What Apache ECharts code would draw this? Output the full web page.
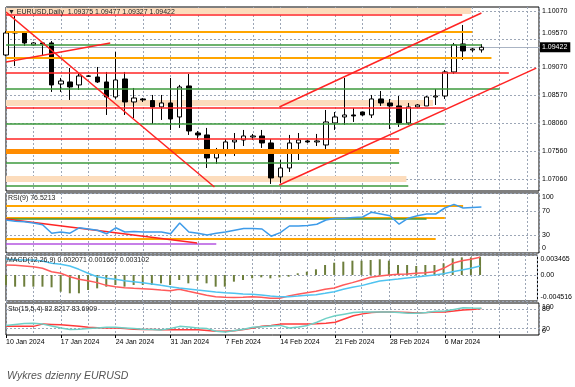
<!DOCTYPE html>
<html><head><meta charset="utf-8">
<script src="https://cdn.jsdelivr.net/npm/echarts@6/dist/echarts.min.js"></script>
<style>html,body{margin:0;padding:0;background:#fff}#c{width:575px;height:387px}</style>
</head><body><div id="c"></div>
<script>
// ---------- DATA ----------
const dates = ['10 Jan 2024','11 Jan 2024','12 Jan 2024','14 Jan 2024','15 Jan 2024','16 Jan 2024','17 Jan 2024','18 Jan 2024','19 Jan 2024','21 Jan 2024',
 '22 Jan 2024','23 Jan 2024','24 Jan 2024','25 Jan 2024','26 Jan 2024','28 Jan 2024','29 Jan 2024','30 Jan 2024','31 Jan 2024','1 Feb 2024',
 '2 Feb 2024','4 Feb 2024','5 Feb 2024','6 Feb 2024','7 Feb 2024','8 Feb 2024','9 Feb 2024','11 Feb 2024','12 Feb 2024','13 Feb 2024',
 '14 Feb 2024','15 Feb 2024','16 Feb 2024','18 Feb 2024','19 Feb 2024','20 Feb 2024','21 Feb 2024','22 Feb 2024','23 Feb 2024','25 Feb 2024',
 '26 Feb 2024','27 Feb 2024','28 Feb 2024','29 Feb 2024','1 Mar 2024','3 Mar 2024','4 Mar 2024','5 Mar 2024','6 Mar 2024','7 Mar 2024',
 '8 Mar 2024','10 Mar 2024','11 Mar 2024'];
const open = [1.09284,1.09677,1.09695,1.09463,1.09499,1.09499,1.08766,1.08802,1.08749,1.08909,
 1.08891,1.08802,1.08534,1.08856,1.08445,1.08499,1.08470,1.08356,1.08427,1.08177,
 1.08731,1.07891,1.07856,1.07445,1.07534,1.07731,1.07766,1.07820,1.07838,1.07713,
 1.07106,1.07266,1.07713,1.07749,1.07731,1.07677,1.08070,1.08177,1.08213,1.08266,
 1.08213,1.08499,1.08427,1.08374,1.08070,1.08356,1.08374,1.08534,1.08552,1.08981,
 1.09481,1.09374,1.09375];
const high = [1.09713,1.09981,1.09713,1.09516,1.09516,1.09534,1.08874,1.09052,1.08963,1.08927,
 1.09070,1.08981,1.09338,1.08981,1.08695,1.08516,1.08570,1.08570,1.08874,1.08749,
 1.08945,1.07927,1.07981,1.07624,1.07784,1.07891,1.07945,1.07874,1.07945,1.07784,
 1.07409,1.07856,1.07891,1.07766,1.07874,1.08302,1.08266,1.08874,1.08338,1.08270,
 1.08570,1.08641,1.08499,1.08552,1.08427,1.08409,1.08552,1.08677,1.09016,1.09499,
 1.09820,1.09409,1.09477];
const low = [1.09266,1.09088,1.09445,1.09445,1.09284,1.08624,1.08624,1.08481,1.08659,1.08891,
 1.08784,1.08213,1.08499,1.08213,1.08159,1.08445,1.08052,1.08124,1.07945,1.07981,
 1.07856,1.07766,1.07266,1.07338,1.07481,1.07481,1.07659,1.07766,1.07624,1.06981,
 1.06999,1.07195,1.07409,1.07713,1.07659,1.07588,1.07945,1.08034,1.08088,1.08195,
 1.08159,1.08374,1.07963,1.07999,1.08034,1.08338,1.08374,1.08391,1.08499,1.08945,
 1.09195,1.09338,1.09327];
const close = [1.09677,1.09695,1.09499,1.09499,1.09481,1.08749,1.08820,1.08713,1.08909,1.08905,
 1.08802,1.08534,1.08838,1.08445,1.08516,1.08481,1.08356,1.08427,1.08141,1.08713,
 1.07927,1.07856,1.07445,1.07534,1.07731,1.07766,1.07838,1.07838,1.07713,1.07088,
 1.07266,1.07713,1.07766,1.07731,1.07749,1.08088,1.08177,1.08213,1.08195,1.08213,
 1.08499,1.08427,1.08374,1.08070,1.08356,1.08391,1.08534,1.08552,1.08981,1.09463,
 1.09356,1.09391,1.09422];
const rsi = [55,53,52,50,47,33,35,33,42,40, 38,32,42,35,36,35,35,35,32,50, 35,33,30,33,35,38,41,41,40,28,
 34,45,45,46,48,55,58,58,59,60, 68,65,62,48,58,62,65,65,75,81, 75,76,76.52];
const macdHist = [-0.00174,-0.00203,-0.00203,-0.00203,-0.00203,-0.00214,-0.00290,-0.00318,-0.00318,-0.00261,
 -0.00232,-0.00203,-0.00174,-0.00203,-0.00174,-0.00174,-0.00174,-0.00145,-0.00174,-0.00087,
 -0.00145,-0.00099,-0.00145,-0.00203,-0.00203,-0.00116,-0.00087,-0.00058,-0.00041,-0.00058,
 -0.00041,-0.00030,0.00029,0.00057,0.00098,0.00173,0.00213,0.00231,0.00248,0.00248,
 0.00260,0.00272,0.00248,0.00173,0.00173,0.00156,0.00173,0.00173,0.00202,0.00289,
 0.00306,0.00306,0.00317];
const macdRed = [0.00173,0.00168,0.00156,0.00144,0.00116,0.00057,0.00029,-0.00030,-0.00075,-0.00099,
 -0.00133,-0.00180,-0.00203,-0.00220,-0.00232,-0.00238,-0.00249,-0.00261,-0.00272,-0.00249,
 -0.00284,-0.00318,-0.00353,-0.00376,-0.00388,-0.00393,-0.00388,-0.00376,-0.00388,-0.00405,
 -0.00405,-0.00365,-0.00336,-0.00307,-0.00284,-0.00249,-0.00226,-0.00174,-0.00133,-0.00087,
 -0.00041,-0.00017,0.00000,0.00012,0.00017,0.00029,0.00040,0.00057,0.00116,0.00202,
 0.00248,0.00272,0.00306];
const macdBlue = [0.00272,0.00266,0.00260,0.00260,0.00243,0.00202,0.00185,0.00156,0.00098,0.00029,
 -0.00030,-0.00058,-0.00075,-0.00099,-0.00116,-0.00133,-0.00156,-0.00180,-0.00203,-0.00226,
 -0.00243,-0.00261,-0.00278,-0.00295,-0.00307,-0.00318,-0.00330,-0.00336,-0.00347,-0.00365,
 -0.00376,-0.00376,-0.00365,-0.00353,-0.00342,-0.00318,-0.00290,-0.00249,-0.00214,-0.00185,
 -0.00145,-0.00104,-0.00087,-0.00070,-0.00052,-0.00035,-0.00017,0.00000,0.00023,0.00057,
 0.00087,0.00116,0.00156];
const stoRed = [27,27,27,27,34,33,32,30,27,24, 23,22,22,20,18,17,17,16.5,16.5,16.5, 16.5,16.5,14,11.5,12,13,17,22,27,30,
 34,34,34,34,35,37,40,50,60,66, 70,72,72,71,70,69,70,72,72,75, 78,80,82.82];
const stoCyan = [30,33,36,37,34,28,22,17,18,20, 22,24,24,22,20,18,17,16,20,27, 25,22,20,12,9,14,18,24,26,28,
 30,22,25,30,40,52,60,65,70,72, 72,72,72,70,68,68,70,74,75,80, 85,84,83.69];

const priceTicks = [1.1007,1.0957,1.0907,1.0857,1.0806,1.0756,1.0706];
const rsiTicks = [0,30,70,100];
const macdTicks = [-0.004516,0,0.003465];
const stoEdgeTicks = [0,100];
const stoLevelTicks = [20,80];
const lastPrice = 1.09422;

// analyst drawings (x in bar-index units, y in price / indicator units)
const levelPrice = [1.10079,1.10008,1.09695,1.09463,1.09231,1.08963,1.08677,1.08436,1.08338,1.08052,1.07784,1.07561,1.07356,1.07070,1.06945];
const levelEnd   = [50.9,49.9,51.0,52.0,53.1,55.0,54.0,46.7,48.0,48.0,43.0,43.0,43.0,43.8,44.0];
const levelKind  = ['band','red','orange','green','orange','red','green','band','red','green','red','thick','green','band','green'];
const trendFrom = [[0,1.10052],[0,1.09159],[29.9,1.08356],[29.9,1.06963]];
const trendTo   = [[22.8,1.06927],[11.4,1.09499],[52.0,1.10034],[58.0,1.09050]];
const rsiLevelValue = [78.3,58.9,58.3,57.6,23.3,15.0];
const rsiLevelEnd   = [50,46,48,46,47,23];
const rsiLevelKind  = ['orange','darkred','orange','green','orange','purple'];
const rsiTrendFrom = [[0,56.7]];
const rsiTrendTo   = [[20.9,16.7]];

// ---------- STYLES ----------
const FONT = 'Liberation Sans';
const XMAX = 58.3;
const kindStyle = {
  red:{color:'#ff2424',width:1.5,opacity:1}, orange:{color:'#ffa500',width:2,opacity:1}, green:{color:'#3c9a3c',width:1.5,opacity:1},
  band:{color:'#fcdcbc',width:6,opacity:1}, thick:{color:'#ff8c00',width:5,opacity:1}, darkred:{color:'#c0392b',width:1.5,opacity:1},
  purple:{color:'#b455e0',width:1.5,opacity:1}
};
const gridLine = {show:true, lineStyle:{color:'#9ca6b6', type:[2,2], width:1}};
const richShift = {
  d8:{padding:[8,0,0,0],fontSize:7,fontFamily:FONT,color:'#000'},
  u8:{padding:[0,0,8,0],fontSize:7,fontFamily:FONT,color:'#000'},
  u10:{padding:[0,0,10,0],fontSize:7,fontFamily:FONT,color:'#000'},
  u12:{padding:[0,0,12,0],fontSize:7,fontFamily:FONT,color:'#000'}
};
function xAx(gi){
  return {type:'value', gridIndex:gi, position:'bottom', min:0, max:XMAX, interval:3,
    axisLine:{show:false}, axisTick:{show:false}, axisLabel:{show:false}, splitLine:gridLine};
}
function yAx(gi,min,max,ticks,fmt,split){
  return {type:'value', gridIndex:gi, position:'right', min:min, max:max,
    axisLine:{show:false}, axisTick:{show:false, customValues:ticks}, splitLine: split===false ? {show:false} : gridLine,
    axisLabel:{customValues:ticks, formatter:fmt, fontSize:7, color:'#000', margin:3, fontFamily:FONT, rich:richShift,
      showMinLabel:true, showMaxLabel:true, hideOverlap:false}};
}
const gridBox = {left:6, right:36, show:true, borderColor:'#000', borderWidth:1, backgroundColor:'transparent'};

const lineData = levelPrice.map((p,i)=>({coords:[[0,p],[levelEnd[i],p]], lineStyle:kindStyle[levelKind[i]], kind:levelKind[i]}));
const bandData = lineData.filter(d=>d.kind==='band');
const mainLines = lineData.filter(d=>d.kind!=='band')
  .concat(trendFrom.map((f,i)=>({coords:[f,trendTo[i]], lineStyle:kindStyle.red})));
const rsiLines = rsiLevelValue.map((v,i)=>({coords:[[0,v],[rsiLevelEnd[i],v]], lineStyle:kindStyle[rsiLevelKind[i]]}))
  .concat(rsiTrendFrom.map((f,i)=>({coords:[f,rsiTrendTo[i]], lineStyle:kindStyle.red})));

const idx = dates.map((d,i)=>i);
const pair = arr => arr.map((v,i)=>[i,v]);
const ohlc = 'EURUSD,Daily  ' + [open[52],high[52],low[52],close[52]].map(v=>v.toFixed(5)).join(' ');
const PMIN = 1.06855, PMAX = 1.10141;

const option = {
  animation:false,
  backgroundColor:'#fff',
  textStyle:{fontFamily:FONT},
  title:[
    {text:'\u25BC '+ohlc, left:8, top:9, padding:0, textStyle:{fontSize:7, fontWeight:'normal', color:'#222', fontFamily:FONT}},
    {text:'RSI(9) 76.5213', left:8, top:195, padding:0, textStyle:{fontSize:7, fontWeight:'normal', color:'#222', fontFamily:FONT}},
    {text:'MACD(12,26,9) 0.002071 0.001667 0.003102', left:7, top:257, padding:0, textStyle:{fontSize:7, fontWeight:'normal', color:'#222', fontFamily:FONT}},
    {text:'Sto(15,5,4) 82.8217 83.6909', left:8, top:306, padding:0, textStyle:{fontSize:7, fontWeight:'normal', color:'#222', fontFamily:FONT}},
    {text:'Wykres dzienny EURUSD', left:7, top:371, padding:0, textStyle:{fontSize:10.5, fontWeight:'normal', fontStyle:'italic', color:'#555', fontFamily:FONT}}
  ],
  grid:[
    Object.assign({top:7, height:184}, gridBox),
    Object.assign({top:193, height:60}, gridBox),
    Object.assign({top:255, height:46}, gridBox),
    Object.assign({top:303, height:32}, gridBox)
  ],
  xAxis:[xAx(0), xAx(1), xAx(2), xAx(3),
    {type:'value', gridIndex:3, position:'bottom', min:0, max:XMAX, interval:6, splitLine:{show:false}, axisLine:{show:false},
     axisTick:{show:true, length:3, lineStyle:{color:'#000'}},
     axisLabel:{show:true, fontSize:7, color:'#000', align:'left', margin:4, fontFamily:FONT, showMaxLabel:false,
       formatter:v=>{const i=Math.round(v); return (Math.abs(v-i)<1e-6 && dates[i]) ? dates[i] : '';}}}
  ],
  yAxis:[
    yAx(0, PMIN, PMAX, priceTicks, v=>{const s=v.toFixed(5); return (v!==priceTicks[0] && Math.abs(v-lastPrice)<0.002) ? '{u12|'+s+'}' : s;}),
    yAx(1, 0, 100, rsiTicks, v=> v===100 ? '{d8|100}' : (v===0 ? '{u10|0}' : String(v))),
    yAx(2, macdTicks[0], macdTicks[2], macdTicks, v=> v===0 ? '0.00' : (v>0 ? '{d8|'+v.toFixed(6)+'}' : '{u8|'+v.toFixed(6)+'}')),
    yAx(3, 0, 100, stoEdgeTicks, v=> v===100 ? '{d8|100}' : '{u8|0}', false),
    {type:'value', gridIndex:0, position:'right', min:PMIN, max:PMAX,
     axisLine:{show:false}, axisTick:{show:false, customValues:[lastPrice]},
     splitLine:{show:true, lineStyle:{color:'#aab4c4', type:'solid', width:1}},
     axisLabel:{customValues:[lastPrice], formatter:v=>v.toFixed(5), color:'#fff', backgroundColor:'#000',
       padding:[2,3,1,2], fontSize:7, margin:1, fontFamily:FONT, showMinLabel:true, showMaxLabel:true}},
    yAx(3, 0, 100, stoLevelTicks, v=> String(v))
  ],
  series:[
    {type:'lines', coordinateSystem:'cartesian2d', xAxisIndex:0, yAxisIndex:0, z:1, silent:true,
     polyline:false, symbol:'none', lineStyle:{opacity:1}, data:bandData},
    {type:'candlestick', xAxisIndex:0, yAxisIndex:0, z:3, barWidth:5, encode:{x:0, y:[1,2,3,4]},
     data: idx.map(i=>[i, open[i], close[i], low[i], high[i]]),
     itemStyle:{color:'#ffffff', color0:'#000000', borderColor:'#000000', borderColor0:'#000000', borderWidth:1}},
    {type:'lines', coordinateSystem:'cartesian2d', xAxisIndex:0, yAxisIndex:0, z:5, silent:true,
     polyline:false, symbol:'none', lineStyle:{opacity:1}, data:mainLines},
    {type:'lines', coordinateSystem:'cartesian2d', xAxisIndex:1, yAxisIndex:1, z:2, silent:true,
     polyline:false, symbol:'none', lineStyle:{opacity:1}, data:rsiLines},
    {type:'line', xAxisIndex:1, yAxisIndex:1, z:4, data:pair(rsi), showSymbol:false, symbol:'none',
     lineStyle:{color:'#3d9be9', width:1.5}},
    {type:'bar', xAxisIndex:2, yAxisIndex:2, data:pair(macdHist), barWidth:2, itemStyle:{color:'#6d7e3c'}},
    {type:'line', xAxisIndex:2, yAxisIndex:2, data:pair(macdRed), showSymbol:false, symbol:'none',
     lineStyle:{color:'#ff5a5a', width:1.5}},
    {type:'line', xAxisIndex:2, yAxisIndex:2, data:pair(macdBlue), showSymbol:false, symbol:'none',
     lineStyle:{color:'#4fc3f0', width:1.5}},
    {type:'line', xAxisIndex:3, yAxisIndex:3, data:pair(stoRed), showSymbol:false, symbol:'none',
     lineStyle:{color:'#ff3b3b', width:1.5}},
    {type:'line', xAxisIndex:3, yAxisIndex:3, data:pair(stoCyan), showSymbol:false, symbol:'none',
     lineStyle:{color:'#6fd0c6', width:1.5}}
  ]
};
const chart = echarts.init(document.getElementById('c'), null, {renderer:'canvas'});
chart.setOption(option);
</script>
</body></html>
